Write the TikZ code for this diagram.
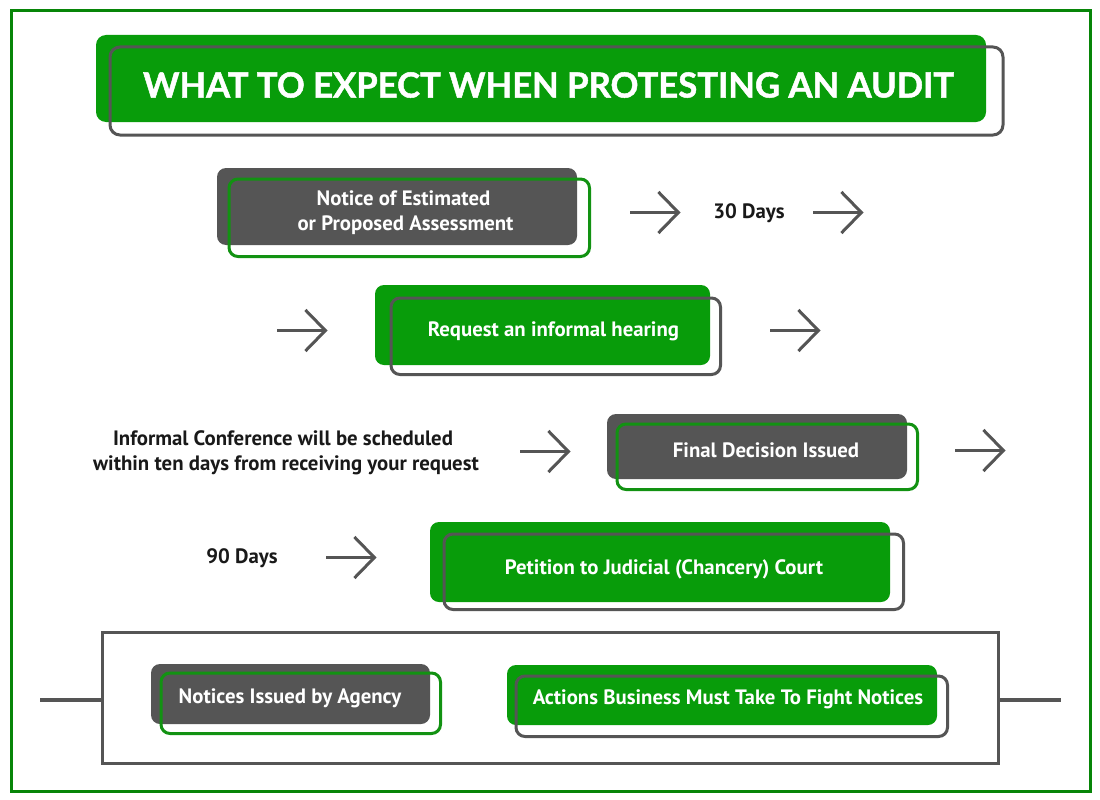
\documentclass[tikz,border=0pt]{standalone}
\usepackage{fontspec}
\setmainfont{PT Sans}
\newfontfamily\titlefont[BoldFeatures={FakeBold=1.4}]{Lato}
\usetikzlibrary{arrows.meta}
\definecolor{brandgreen}{HTML}{089C0A}
\definecolor{linegreen}{HTML}{129212}
\definecolor{slate}{HTML}{555555}
\tikzset{
  x=1pt,y=-1pt,
  lbl/.style={font=\fontsize{20.8}{25}\selectfont\bfseries,align=center,inner sep=0pt},
  whitelbl/.style={lbl,text=white},
  blacklbl/.style={lbl,text=black!90},
  flow/.style={draw=slate,line width=3pt,-{Straight Barb[length=20pt,width=41pt,line width=3pt]}},
  rule/.style={draw=slate,line width=4pt},
  solidbox/.style={rounded corners=9pt},
  ringbox/.style={line width=3pt,rounded corners=9pt},
}
\begin{document}
\begin{tikzpicture}
\useasboundingbox (0,0) rectangle (1100,800);
\fill[white] (0,0) rectangle (1100,800);
\draw[brandgreen!85!black,line width=3pt] (11,11) rectangle (1090,791);

% title
\fill[brandgreen,rounded corners=10pt] (96,35) rectangle (986,122);
\draw[slate,line width=3pt,rounded corners=10pt] (110,47) rectangle (1003,135);
\node[whitelbl,font=\titlefont\fontsize{34.6}{40}\selectfont\bfseries] (title) at (548.5,85) {WHAT TO EXPECT WHEN PROTESTING AN AUDIT};

% row 1
\fill[slate,solidbox] (217,168) rectangle (577,245);
\draw[linegreen,ringbox] (229,179) rectangle (589.5,256.5);
\node[whitelbl] (notice) at (405.5,212.5) {Notice of Estimated\hspace*{4pt}\\or Proposed Assessment};
\node[blacklbl] (d30) at (749,213) {30 Days};
\coordinate (a1s) at (630,212.5); \coordinate (a1e) at (680.5,212.5);
\coordinate (a2s) at (813,212.5); \coordinate (a2e) at (863.5,212.5);
\draw[flow] (a1s) -- (a1e);
\draw[flow] (a2s) -- (a2e);

% row 2
\coordinate (a3s) at (277,330.5); \coordinate (a3e) at (327.5,330.5);
\coordinate (a4s) at (770,330.5); \coordinate (a4e) at (820.5,330.5);
\draw[flow] (a3s) -- (a3e);
\fill[brandgreen,solidbox] (375,285) rectangle (710,365);
\draw[slate,ringbox] (391,298) rectangle (720.5,374.5);
\node[whitelbl] (hearing) at (553.5,331) {Request an informal hearing};
\draw[flow] (a4s) -- (a4e);

% row 3
\node[blacklbl] (conf) at (286,453) {Informal Conference will be scheduled\hspace*{6pt}\\within ten days from receiving your request};
\coordinate (a5s) at (520,451.5); \coordinate (a5e) at (570.5,451.5);
\coordinate (a6s) at (955,450.5); \coordinate (a6e) at (1005.5,450.5);
\draw[flow] (a5s) -- (a5e);
\fill[slate,solidbox] (607,414) rectangle (907,479);
\draw[linegreen,ringbox] (617,424) rectangle (917.5,489.5);
\node[whitelbl] (final) at (766,450) {Final Decision Issued};
\draw[flow] (a6s) -- (a6e);

% row 4
\node[blacklbl] (d90) at (242,558) {90 Days};
\coordinate (a7s) at (326,557.5); \coordinate (a7e) at (376.5,557.5);
\draw[flow] (a7s) -- (a7e);
\fill[brandgreen,solidbox] (430,522) rectangle (890,602);
\draw[slate,ringbox] (444,534) rectangle (903.5,609.5);
\node[whitelbl] (petition) at (664,569) {Petition to Judicial (Chancery) Court};

% legend
\node[draw=slate,line width=3pt,minimum width=896pt,minimum height=131pt,inner sep=0pt] (legend) at (550.5,698) {};
\coordinate (ll) at (40,700); \coordinate (lr) at (1061,700);
\draw[rule] (ll) -- (legend.west |- ll);
\draw[rule] (legend.east |- lr) -- (lr);
\fill[slate,solidbox] (151,664) rectangle (430,724);
\draw[linegreen,ringbox] (161,673) rectangle (440.5,733.5);
\node[whitelbl] (agency) at (290,698) {Notices Issued by Agency};
\fill[brandgreen,solidbox] (507,665) rectangle (937,725);
\draw[slate,ringbox] (516,676) rectangle (947.5,736.5);
\node[whitelbl] (actions) at (728,699) {Actions Business Must Take To Fight Notices};
\end{tikzpicture}
\end{document}
